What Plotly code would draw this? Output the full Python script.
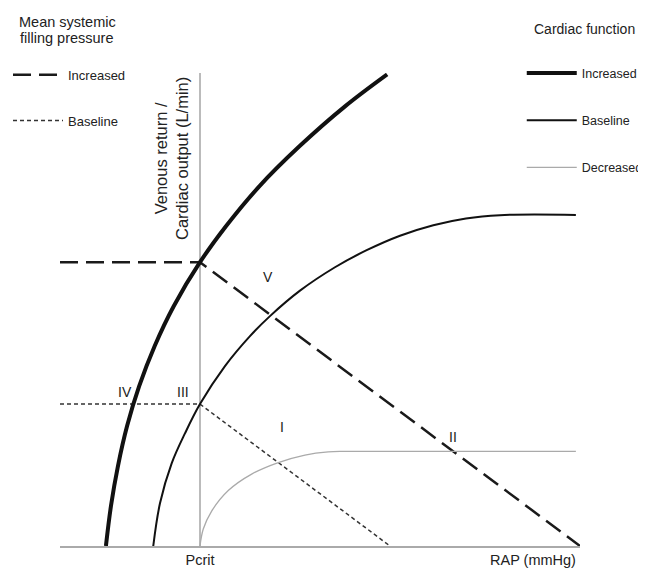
import plotly.graph_objects as go

# ---- data (x: RAP relative to Pcrit, arbitrary mmHg units; y: L/min) ----
x_min, x_max = -4.42, 12.0
y_min, y_max = 0.0, 10.0

# Venous return curves (mean systemic filling pressure)
vr_increased_x = [-4.42, 0.0, 12.0]
vr_increased_y = [6.0, 6.0, 0.0]
vr_baseline_x = [-4.42, 0.0, 6.0]
vr_baseline_y = [3.0, 3.0, 0.0]

# Cardiac function curves
cf_increased_x = [-2.97, -2.81, -2.59, -2.30, -1.92, -1.43, -0.83, 0.0, 0.82, 1.88, 3.14, 4.59, 5.91]
cf_increased_y = [0.0, 0.85, 1.69, 2.54, 3.38, 4.23, 5.07, 6.0, 6.76, 7.61, 8.45, 9.30, 9.97]

cf_baseline_x = [-1.475, -1.263, -0.894, -0.474, 0.0, 0.789, 1.579, 2.21, 3.158, 4.263, 5.264, 6.316, 7.367, 8.399, 9.473, 11.87]
cf_baseline_y = [0.0, 0.902, 1.747, 2.38, 3.0, 3.803, 4.437, 4.86, 5.398, 5.893, 6.254, 6.56, 6.782, 6.926, 6.995, 7.0]

cf_decreased_x = [0.0, 0.104, 0.369, 0.893, 1.632, 2.473, 3.315, 4.05, 4.58, 8.0, 11.87]
cf_decreased_y = [0.0, 0.359, 0.739, 1.173, 1.521, 1.764, 1.923, 1.99, 2.0, 2.0, 2.0]

# Intersection labels
point_labels = ["V", "IV", "III", "I", "II"]
point_label_x = [2.15, -2.37, -0.54, 2.59, 7.99]
point_label_y = [5.68, 3.25, 3.25, 2.51, 2.30]

FONT = "Liberation Sans, Arial, Helvetica, sans-serif"
TXT = "#222222"

fig = go.Figure()

# MSFP legend (left)
fig.add_trace(go.Scatter(
    x=vr_increased_x, y=vr_increased_y, mode="lines", name="Increased",
    line=dict(color="#1a1a1a", width=2.5, dash="18px,8px"),
    legend="legend", legendgroup="msfp_inc", hoverinfo="skip"))
fig.add_trace(go.Scatter(
    x=vr_baseline_x, y=vr_baseline_y, mode="lines", name="Baseline",
    line=dict(color="#333333", width=1.5, dash="4px,3px"),
    legend="legend", legendgroup="msfp_base", hoverinfo="skip"))

# Cardiac function legend (right)
fig.add_trace(go.Scatter(
    x=cf_increased_x, y=cf_increased_y, mode="lines", name="Increased",
    line=dict(color="#111111", width=4, shape="spline", smoothing=1.0),
    legend="legend2", legendgroup="cf_inc", hoverinfo="skip"))
fig.add_trace(go.Scatter(
    x=cf_baseline_x, y=cf_baseline_y, mode="lines", name="Baseline",
    line=dict(color="#111111", width=2, shape="spline", smoothing=1.0),
    legend="legend2", legendgroup="cf_base", hoverinfo="skip"))
fig.add_trace(go.Scatter(
    x=cf_decreased_x, y=cf_decreased_y, mode="lines", name="Decreased",
    line=dict(color="#aaaaaa", width=1.3, shape="spline", smoothing=1.0),
    legend="legend2", legendgroup="cf_dec", hoverinfo="skip"))

for t, lx, ly in zip(point_labels, point_label_x, point_label_y):
    fig.add_annotation(x=lx, y=ly, text=t, showarrow=False,
                       font=dict(family=FONT, size=14, color=TXT))

# Axis titles
fig.add_annotation(x=0, y=y_max, xref="x", yref="y", text="Venous return /<br>Cardiac output (L/min)",
                   textangle=-90, showarrow=False, xanchor="right", yanchor="top", xshift=-7, yshift=-2,
                   font=dict(family=FONT, size=16.5, color=TXT))
fig.add_annotation(x=x_max, y=0, xref="x", yref="y", text="RAP (mmHg)", showarrow=False,
                   xanchor="right", yanchor="top", yshift=-4, xshift=-2,
                   font=dict(family=FONT, size=14.5, color=TXT))

# Legend titles
legend_title_left = ["Mean systemic", "filling pressure"]
for i, line in enumerate(legend_title_left):
    fig.add_annotation(x=0.0135, y=1.108 - i * 0.034, xref="paper", yref="paper", text=line,
                       showarrow=False, xanchor="center", yanchor="middle",
                       font=dict(family=FONT, size=14.5, color=TXT))
fig.add_annotation(x=0.907, y=1.093, xref="paper", yref="paper", text="Cardiac function",
                   showarrow=False, xanchor="left", yanchor="middle",
                   font=dict(family=FONT, size=14, color=TXT))

# The page body adds an 8px offset, so the figure is 8px smaller and margins shifted.
fig.update_layout(
    width=638, height=560, autosize=False,
    margin=dict(l=52, r=66, t=65, b=22, autoexpand=False),
    paper_bgcolor="white", plot_bgcolor="white",
    font=dict(family=FONT, size=13, color=TXT),
    xaxis=dict(range=[x_min, x_max], showgrid=False, zeroline=True,
               zerolinecolor="#bbbbbb", zerolinewidth=1.5,
               showline=True, linecolor="#aaaaaa", linewidth=1.5,
               tickmode="array", tickvals=[0], ticktext=["Pcrit"], ticks="",
               tickfont=dict(family=FONT, size=14.5, color=TXT)),
    yaxis=dict(range=[y_min, y_max], showgrid=False, zeroline=False,
               showline=False, showticklabels=False, ticks=""),
    legend=dict(x=-0.1, y=1.028, xanchor="left", yanchor="top",
                font=dict(family=FONT, size=13, color=TXT),
                itemwidth=50, tracegroupgap=26, bgcolor="rgba(0,0,0,0)"),
    legend2=dict(x=0.888, y=1.031, xanchor="left", yanchor="top",
                 font=dict(family=FONT, size=12.5, color=TXT),
                 itemwidth=50, tracegroupgap=28, bgcolor="rgba(0,0,0,0)"),
    showlegend=True,
)

fig.write_html("out.html")
